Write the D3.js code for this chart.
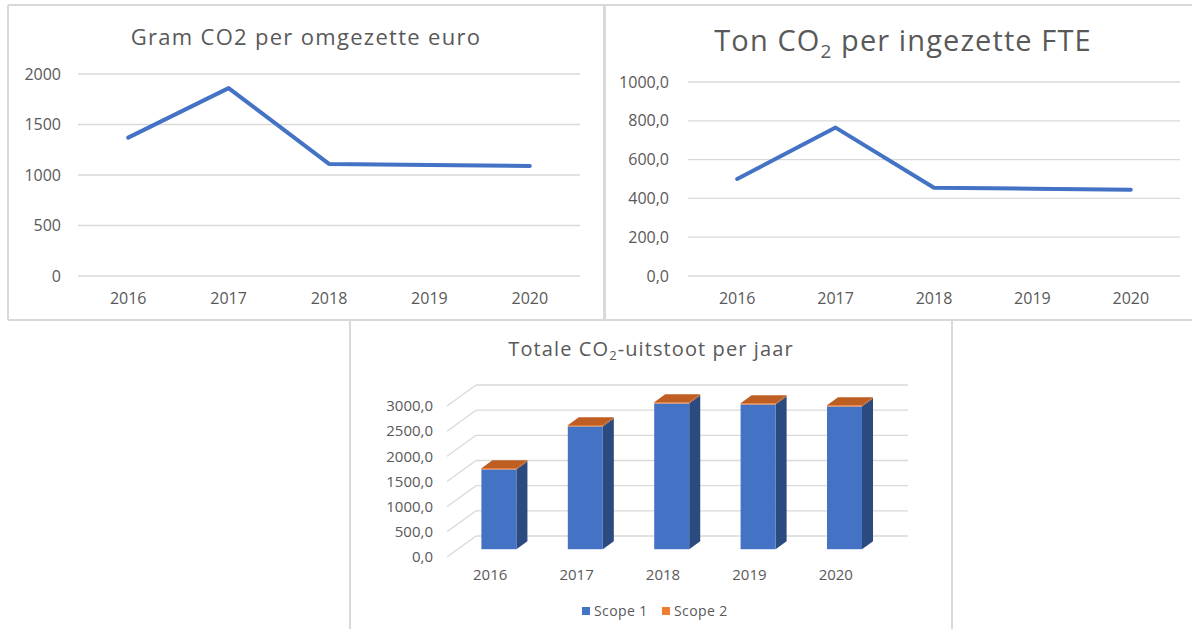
<!DOCTYPE html>
<html>
<head>
<meta charset="utf-8">
<script src="https://cdn.jsdelivr.net/npm/d3@7"></script>
<style>
  body { margin: 0; background: #fff; }
  svg { display: block; font-family: "Open Sans", "Noto Sans", sans-serif; }
  .grid line { stroke: #d9d9d9; stroke-width: 1.3; }
  .lbl { fill: #595959; font-size: 16px; }
  .lbl3 { fill: #595959; font-size: 15px; }
</style>
</head>
<body>
<div id="chart"></div>
<script>
// data
const years = ['2016', '2017', '2018', '2019', '2020'];
const gramPerEuro = [1370, 1860, 1110, 1100, 1090];
const tonPerFte = [500, 765, 455, 450, 445];
const scope1 = [1585, 2440, 2895, 2875, 2835];
const scope2 = [25, 25, 25, 25, 25];
const ticksGram = [0, 500, 1000, 1500, 2000];
const ticksFte = [0, 200, 400, 600, 800, 1000];
const ticksTotal = [0, 500, 1000, 1500, 2000, 2500, 3000];

const W = 1192, H = 629;
const blue = '#4472c4';
const comma1 = d => d3.format('.1f')(d).replace('.', ',');

const svg = d3.select('#chart').append('svg')
    .attr('width', W).attr('height', H);

// panel borders
const border = svg.append('g').attr('stroke', '#d9d9d9').attr('fill', 'none');
border.append('line').attr('x1', 8).attr('x2', W).attr('y1', 5).attr('y2', 5).attr('stroke-width', 2);
border.append('line').attr('x1', 8).attr('x2', 8).attr('y1', 5).attr('y2', 320).attr('stroke-width', 2);
border.append('line').attr('x1', 8).attr('x2', W).attr('y1', 320).attr('y2', 320).attr('stroke-width', 2);
border.append('line').attr('x1', 604.5).attr('x2', 604.5).attr('y1', 5).attr('y2', 320).attr('stroke-width', 3);
border.append('line').attr('x1', 350).attr('x2', 350).attr('y1', 320).attr('y2', H).attr('stroke-width', 2);
border.append('line').attr('x1', 952).attr('x2', 952).attr('y1', 320).attr('y2', H).attr('stroke-width', 2);

function lineChart(cfg) {
    const x = d3.scaleBand().domain(years).range(cfg.xr);
    const y = d3.scaleLinear().domain([0, cfg.max]).range(cfg.yr);
    const g = svg.append('g');

    const grid = g.append('g').attr('class', 'grid');
    grid.selectAll('line').data(cfg.ticks).join('line')
        .attr('x1', cfg.xr[0]).attr('x2', cfg.xr[1])
        .attr('y1', d => y(d)).attr('y2', d => y(d));

    g.selectAll('.ylab').data(cfg.ticks).join('text')
        .attr('class', 'lbl ylab')
        .attr('x', cfg.labX).attr('y', d => y(d))
        .attr('dy', '0.35em').attr('text-anchor', 'end')
        .text(cfg.fmt);

    g.selectAll('.xlab').data(years).join('text')
        .attr('class', 'lbl xlab')
        .attr('x', d => x(d) + x.bandwidth() / 2).attr('y', 298)
        .attr('dy', '0.35em').attr('text-anchor', 'middle')
        .text(d => d);

    const line = d3.line()
        .x((d, i) => x(years[i]) + x.bandwidth() / 2)
        .y(d => y(d));
    g.append('path').datum(cfg.values)
        .attr('d', line)
        .attr('fill', 'none').attr('stroke', blue)
        .attr('stroke-width', 4).attr('stroke-linejoin', 'round').attr('stroke-linecap', 'round');
    return g;
}

const c1 = lineChart({ xr: [78, 580], yr: [276, 74], max: 2000, ticks: ticksGram, values: gramPerEuro, labX: 61, fmt: d => d });
c1.append('text').attr('x', 306).attr('y', 45).attr('text-anchor', 'middle')
    .attr('fill', '#595959').style('font-size', '22px').style('letter-spacing', '1.3px')
    .text('Gram CO2 per omgezette euro');

const c2 = lineChart({ xr: [688, 1180], yr: [276, 82], max: 1000, ticks: ticksFte, values: tonPerFte, labX: 669, fmt: comma1 });
const t2 = c2.append('text').attr('x', 903).attr('y', 51).attr('text-anchor', 'middle')
    .attr('fill', '#595959').style('font-size', '29px').style('letter-spacing', '1.1px');
t2.append('tspan').text('Ton CO');
t2.append('tspan').text('2').style('font-size', '19px').attr('dy', 7);
t2.append('tspan').text(' per ingezette FTE').attr('dy', -7);

// 3D stacked bar chart
const xb = d3.scaleBand().domain(years).range([447, 879]);
const yb = d3.scaleLinear().domain([0, 3000]).range([557, 406]);
const depth = { dx: 29, dy: -21 };
const g3 = svg.append('g');

const grid3 = g3.append('g').attr('class', 'grid');
grid3.selectAll('.diag').data(ticksTotal).join('line')
    .attr('x1', 447).attr('y1', d => yb(d))
    .attr('x2', 447 + depth.dx).attr('y2', d => yb(d) + depth.dy);
grid3.selectAll('.back').data(ticksTotal).join('line')
    .attr('x1', 447 + depth.dx).attr('y1', d => yb(d) + depth.dy)
    .attr('x2', 879 + depth.dx).attr('y2', d => yb(d) + depth.dy);

g3.selectAll('.ylab').data(ticksTotal).join('text')
    .attr('class', 'lbl3 ylab')
    .attr('x', 433).attr('y', d => yb(d))
    .attr('dy', '0.35em').attr('text-anchor', 'end')
    .text(comma1);

g3.selectAll('.xlab').data(years).join('text')
    .attr('class', 'lbl3 xlab')
    .attr('x', d => xb(d) + xb.bandwidth() / 2).attr('y', 575)
    .attr('dy', '0.35em').attr('text-anchor', 'middle')
    .text(d => d);

const fA = 0.3, fB = 0.38;   // bar front offset and bar depth, fraction of floor depth
const bw = 35;
const stacks = years.map((yr, i) => ({ yr, s1: scope1[i], s2: scope2[i] }));
const seg = [
    { key: 's1', lo: d => 0, hi: d => d.s1, front: blue, side: '#2a4a80' },
    { key: 's2', lo: d => d.s1, hi: d => d.s1 + d.s2, front: '#ed7d31', side: '#a9551c' }
];
const poly = pts => pts.map(p => p.join(',')).join(' ');

stacks.forEach(d => {
    const ox = depth.dx * fA, oy = depth.dy * fA - 1.5;
    const ddx = depth.dx * fB, ddy = depth.dy * fB;
    const x0 = xb(d.yr) + xb.bandwidth() / 2 - bw / 2 + ox;
    const x1 = x0 + bw;
    seg.forEach(s => {
        const yl = yb(s.lo(d)) + oy, yh = yb(s.hi(d)) + oy;
        g3.append('polygon').attr('points', poly([[x1, yh], [x1 + ddx, yh + ddy], [x1 + ddx, yl + ddy], [x1, yl]]))
            .attr('fill', s.side);
        g3.append('rect').attr('x', x0).attr('y', yh).attr('width', bw).attr('height', yl - yh)
            .attr('fill', s.front);
    });
    const yt = yb(d.s1 + d.s2) + oy;
    g3.append('polygon').attr('points', poly([[x0, yt], [x1, yt], [x1 + ddx, yt + ddy], [x0 + ddx, yt + ddy]]))
        .attr('fill', '#bf5e22');
});

g3.append('text').attr('x', 651).attr('y', 356).attr('text-anchor', 'middle')
    .attr('fill', '#595959').style('font-size', '20px').style('letter-spacing', '1.1px')
    .call(t => {
        t.append('tspan').text('Totale CO');
        t.append('tspan').text('2').style('font-size', '13px').attr('dy', 4);
        t.append('tspan').text('-uitstoot per jaar').attr('dy', -4);
    });

// legend
const legend = g3.append('g');
const legItems = [{ name: 'Scope 1', color: blue, x: 582 }, { name: 'Scope 2', color: '#ed7d31', x: 662 }];
legend.selectAll('rect').data(legItems).join('rect')
    .attr('x', d => d.x).attr('y', 607).attr('width', 8).attr('height', 8)
    .attr('fill', d => d.color);
legend.selectAll('text').data(legItems).join('text')
    .attr('x', d => d.x + 12).attr('y', 611).attr('dy', '0.35em')
    .attr('fill', '#595959').style('font-size', '14px').style('letter-spacing', '0.4px')
    .text(d => d.name);
</script>
</body>
</html>
